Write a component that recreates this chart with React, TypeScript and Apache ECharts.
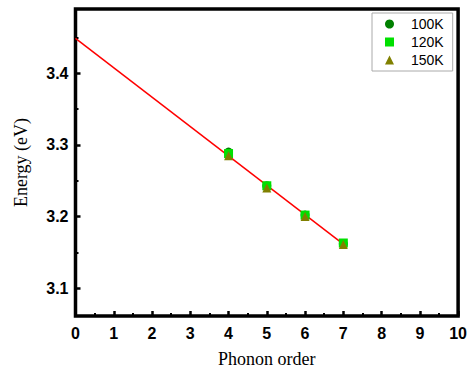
import React, { useEffect, useRef } from "react";
import * as echarts from "echarts";

const phononOrder = [4, 5, 6, 7];
const energy100K = [3.290, 3.243, 3.202, 3.162];
const energy120K = [3.288, 3.243, 3.202, 3.163];
const energy150K = [3.285, 3.240, 3.200, 3.161];
const fitX = [0, 7];
const fitY = [3.449, 3.1615];
const yMajorTicks = [3.1, 3.2, 3.3, 3.4];
const yMinorTicks = [3.15, 3.25, 3.35, 3.45];
const xTicks = [0, 1, 2, 3, 4, 5, 6, 7, 8, 9, 10];

export default function App() {
  const ref = useRef<HTMLDivElement>(null);
  useEffect(() => {
    if (!ref.current) return;
    const chart = echarts.init(ref.current, null, { renderer: "svg" });
    const pair = (xs: number[], ys: number[]) => xs.map((x, i) => [x, ys[i]]);
    chart.setOption({
      animation: false,
      backgroundColor: "#fff",
      grid: {
        left: 75.5,
        right: 11.7,
        top: 9,
        bottom: 56.5,
        show: true,
        borderColor: "#000",
        borderWidth: 3.5,
        backgroundColor: "transparent",
      },
      legend: {
        orient: "vertical",
        left: 372,
        top: 13,
        padding: [4, 9, 4, 13],
        borderColor: "#aaa",
        borderWidth: 1,
        itemWidth: 9,
        itemHeight: 9,
        itemGap: 4,
        itemStyle: { borderWidth: 0 },
        textStyle: { fontFamily: "Liberation Sans, Arial", fontSize: 14, color: "#000", padding: [0, 0, 0, 12] },
        data: [
          { name: "100K", icon: "circle" },
          { name: "120K", icon: "rect" },
          { name: "150K", icon: "triangle" },
        ],
      },
      xAxis: {
        type: "value",
        min: 0,
        max: 10,
        interval: 1,
        name: "Phonon order",
        nameLocation: "middle",
        nameGap: 34,
        nameTextStyle: { fontFamily: "Liberation Serif, Times New Roman", fontSize: 18, color: "#000" },
        axisLine: { show: false },
        axisTick: { show: true, inside: true, length: 5, lineStyle: { color: "#000", width: 2.5 } },
        minorTick: { show: true, splitNumber: 2, length: 3, lineStyle: { color: "#000", width: 2 } },
        splitLine: { show: false },
        axisLabel: {
          margin: 9,
          fontFamily: "Liberation Sans, Arial",
          fontWeight: "bold",
          fontSize: 16,
          color: "#000",
          customValues: xTicks,
        },
      },
      yAxis: [
        {
          type: "value",
          min: 3.061,
          max: 3.49,
          name: "Energy (eV)",
          nameLocation: "middle",
          nameGap: 46,
          nameTextStyle: { fontFamily: "Liberation Serif, Times New Roman", fontSize: 18, color: "#000" },
          axisLine: { show: false },
          axisTick: { show: true, inside: true, length: 5, lineStyle: { color: "#000", width: 2.5 }, customValues: yMajorTicks },
          splitLine: { show: false },
          axisLabel: {
            margin: 7,
            fontFamily: "Liberation Sans, Arial",
            fontWeight: "bold",
            fontSize: 16,
            color: "#000",
            customValues: yMajorTicks,
            formatter: (v: number) => v.toFixed(1),
          },
        },
        {
          type: "value",
          min: 3.061,
          max: 3.49,
          position: "left",
          axisLine: { show: false },
          axisTick: { show: true, inside: true, length: 3, lineStyle: { color: "#000", width: 2 }, customValues: yMinorTicks },
          axisLabel: { show: false },
          splitLine: { show: false },
        },
      ],
      series: [
        {
          type: "line",
          name: "fit",
          data: pair(fitX, fitY),
          symbol: "none",
          lineStyle: { color: "#ff0000", width: 1.5 },
          z: 1,
        },
        {
          type: "scatter",
          name: "100K",
          data: pair(phononOrder, energy100K),
          symbol: "circle",
          symbolSize: 9,
          itemStyle: { color: "#008000", opacity: 1 },
          z: 2,
        },
        {
          type: "scatter",
          name: "120K",
          data: pair(phononOrder, energy120K),
          symbol: "rect",
          symbolSize: 9,
          itemStyle: { color: "#00e000", opacity: 1 },
          z: 3,
        },
        {
          type: "scatter",
          name: "150K",
          data: pair(phononOrder, energy150K),
          symbol: "triangle",
          symbolSize: 9,
          itemStyle: { color: "#808000", opacity: 1 },
          z: 4,
        },
      ],
    });
    return () => chart.dispose();
  }, []);
  return <div ref={ref} style={{ width: 470, height: 373, position: "absolute", left: 0, top: 0 }} />;
}
